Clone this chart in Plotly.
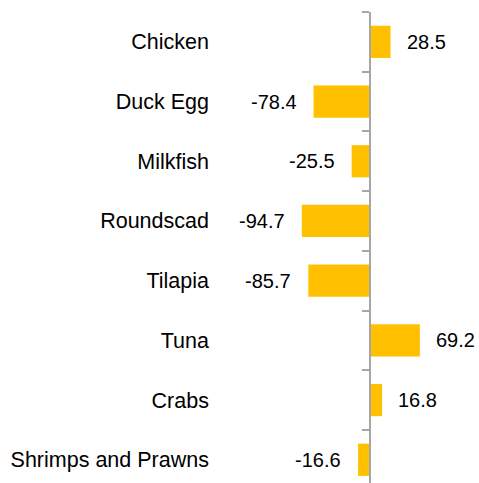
import plotly.graph_objects as go

categories = ["Chicken", "Duck Egg", "Milkfish", "Roundscad", "Tilapia", "Tuna", "Crabs", "Shrimps and Prawns"]
values = [28.5, -78.4, -25.5, -94.7, -85.7, 69.2, 16.8, -16.6]

W, H = 479, 483
zero_px = 370
px_per_unit = 0.72
x_min = -zero_px / px_per_unit
x_max = (W - zero_px) / px_per_unit
band = 59.7
top = 12
n_vis = (H - top) / band

FONT = "Liberation Sans, Arial"
FS = 21.5
FS_VAL = 20

fig = go.Figure(go.Bar(
    x=values, y=categories, orientation="h",
    marker=dict(color="#FFC000", line=dict(width=0)),
    width=0.54,
    hoverinfo="skip",
))

for c, v in zip(categories, values):
    fig.add_annotation(
        x=v, y=c, xref="x", yref="y",
        text=f"{v:.1f}", showarrow=False,
        xanchor="left" if v >= 0 else "right",
        xshift=14 if v >= 0 else -15,
        font=dict(size=FS_VAL, color="#000000", family=FONT),
    )

fig.update_layout(
    width=W, height=H,
    margin=dict(l=0, r=0, t=top, b=0, pad=0),
    plot_bgcolor="white", paper_bgcolor="white",
    showlegend=False,
    font=dict(family=FONT, size=FS, color="#000000"),
    xaxis=dict(range=[x_min, x_max], visible=False, domain=[0, 1]),
    yaxis=dict(
        type="category",
        range=[-0.5 + n_vis, -0.5],
        anchor="free", position=zero_px / W,
        showline=True, linecolor="#A6A6A6", linewidth=1.5,
        ticks="outside", ticklen=7, tickcolor="#A6A6A6", tickwidth=1.5,
        tickson="boundaries",
        showgrid=False, zeroline=False,
        ticklabelstandoff=156,
        tickfont=dict(size=FS, color="#000000"),
    ),
)

fig.write_html(
    "out.html",
    config={"displayModeBar": False},
    post_script="document.body.style.margin='0';document.body.style.overflow='hidden';",
)
